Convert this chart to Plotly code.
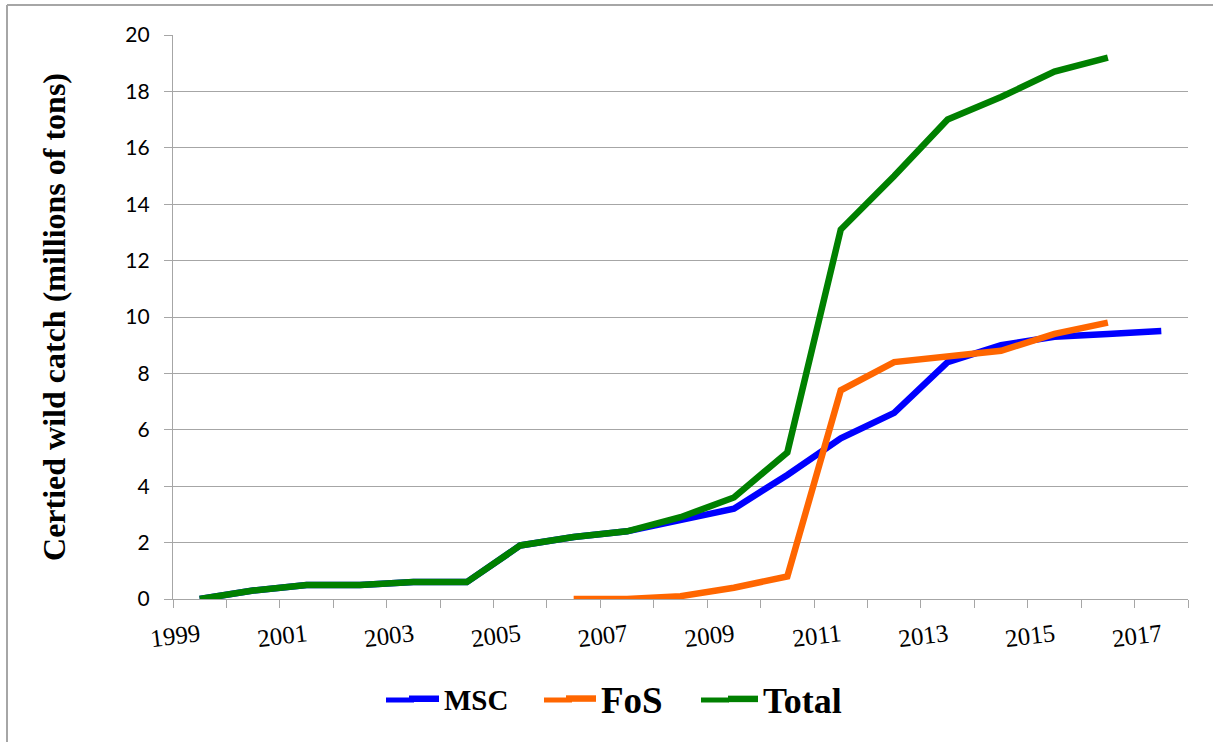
import plotly.graph_objects as go

years = list(range(1999, 2018))
msc = [0, 0.3, 0.5, 0.5, 0.6, 0.6, 1.9, 2.2, 2.4, 2.8, 3.2, 4.4, 5.7, 6.6, 8.4, 9.0, 9.3, 9.4, 9.5]
fos_years = list(range(2006, 2017))
fos = [0, 0, 0.1, 0.4, 0.8, 7.4, 8.4, 8.6, 8.8, 9.4, 9.8]
total_years = list(range(1999, 2017))
total = [0, 0.3, 0.5, 0.5, 0.6, 0.6, 1.9, 2.2, 2.4, 2.9, 3.6, 5.2, 13.1, 15.0, 17.0, 17.8, 18.7, 19.2]

tick_years = list(range(1999, 2018, 2))
tick_labels = [str(y) for y in tick_years]
boundaries = [y - 0.5 for y in range(1999, 2019)]
y_ticks = list(range(0, 21, 2))

series_colors = ["#0000FF", "#FF6600", "#008000"]

GRID = "#A6A6A6"
SERIF = "Liberation Serif"

fig = go.Figure()
fig.add_trace(go.Scatter(x=years, y=msc, mode="lines", name="<b>MSC</b>",
                         line=dict(color=series_colors[0], width=6.5), legend="legend"))
fig.add_trace(go.Scatter(x=fos_years, y=fos, mode="lines", name="<b>FoS</b>",
                         line=dict(color=series_colors[1], width=6.5), legend="legend2"))
fig.add_trace(go.Scatter(x=total_years, y=total, mode="lines", name="<b>Total</b>",
                         line=dict(color=series_colors[2], width=6.5), legend="legend3"))

L, R, T, B = 173, 25, 35, 143
W, H = 1213, 742
pw, ph = W - L - R, H - T - B

def px(x):
    return (x - L) / pw

def py(y):
    return (H - B - y) / ph

leg_y = py(699)

# legend swatch extensions (reference swatches are longer than plotly's 30px ones)
swatch_ext = []
for x0, x1, c in [(386, 414, series_colors[0]), (544, 572, series_colors[1]), (701, 729, series_colors[2])]:
    swatch_ext.append(dict(type="line", xref="paper", yref="paper", x0=px(x0), x1=px(x1),
                           y0=py(700), y1=py(700), line=dict(color=c, width=5)))

fig.update_layout(
    width=W, height=H,
    margin=dict(l=L, r=R, t=T, b=B, pad=0),
    plot_bgcolor="white", paper_bgcolor="white",
    showlegend=True,
    legend=dict(x=px(404), y=leg_y, xanchor="left", yanchor="middle", orientation="h",
                font=dict(family=SERIF, size=29, color="black"), bgcolor="rgba(0,0,0,0)"),
    legend2=dict(x=px(561), y=leg_y, xanchor="left", yanchor="middle", orientation="h",
                 font=dict(family=SERIF, size=37, color="black"), bgcolor="rgba(0,0,0,0)"),
    legend3=dict(x=px(723), y=leg_y, xanchor="left", yanchor="middle", orientation="h",
                 font=dict(family=SERIF, size=36, color="black"), bgcolor="rgba(0,0,0,0)"),
    xaxis=dict(
        range=[1998.5, 2017.5], showgrid=False, zeroline=False,
        showline=True, linecolor=GRID, linewidth=1.3,
        tickmode="array", tickvals=tick_years, ticktext=tick_labels,
        ticks="", tickangle=-7, ticklabelstandoff=11,
        tickfont=dict(family=SERIF, size=25, color="black"),
        minor=dict(tickmode="array", tickvals=boundaries, ticks="outside",
                   ticklen=8, tickcolor=GRID, tickwidth=1.3, showgrid=False),
    ),
    yaxis=dict(
        range=[0, 20], tickmode="array", tickvals=y_ticks,
        showgrid=True, gridcolor=GRID, gridwidth=1.3, zeroline=False,
        showline=True, linecolor=GRID, linewidth=1.3,
        ticks="outside", ticklen=8, tickcolor=GRID, tickwidth=1.3,
        ticklabelstandoff=10,
        tickfont=dict(family="Lato", size=21, color="black"),
        title=dict(text="<b>Certied wild catch (millions of tons)</b>",
                   font=dict(family=SERIF, size=32, color="black"), standoff=50),
    ),
    shapes=[
        dict(type="line", xref="paper", yref="paper", x0=px(7), x1=px(W + 5), y0=py(5), y1=py(5),
             line=dict(color="#A6A6A6", width=2)),
        dict(type="line", xref="paper", yref="paper", x0=px(7), x1=px(7), y0=py(5), y1=py(H + 5),
             line=dict(color="#A6A6A6", width=2)),
    ] + swatch_ext,
)

fig.write_html("out.html", config={"displayModeBar": False},
               post_script="document.body.style.margin='0';document.body.style.overflow='hidden';")
